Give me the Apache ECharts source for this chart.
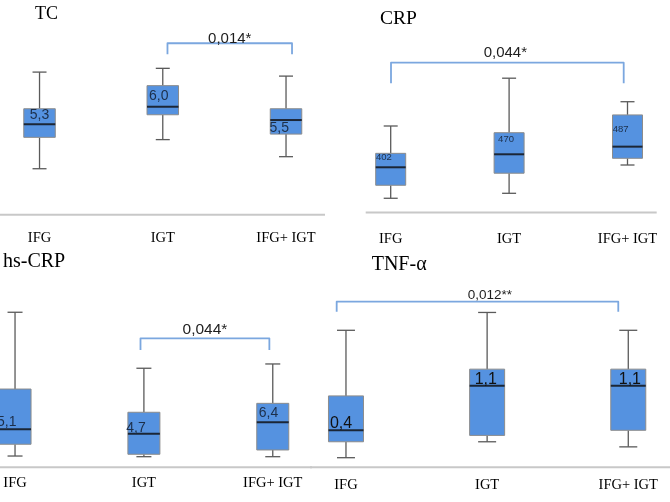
<!DOCTYPE html>
<html>
<head>
<meta charset="utf-8">
<script src="https://cdn.jsdelivr.net/npm/echarts@6/dist/echarts.min.js"></script>
<style>
html,body{margin:0;padding:0;background:#fff;}
#c{width:670px;height:502px;}
</style>
</head>
<body>
<div id="c"></div>
<script>
// ---------- data ----------
const categories = ['IFG', 'IGT', 'IFG+ IGT'];

// [min, Q1, median, Q3, max] per category
const tcStats    = [[3.53, 4.78, 5.30, 5.92, 7.38], [4.69, 5.68, 6.00, 6.84, 7.53], [4.01, 4.91, 5.47, 5.92, 7.22]];
const crpStats   = [[240, 308, 402, 475, 618], [266, 371, 470, 583, 868], [414, 449, 510, 676, 745]];
const hsCrpStats = [[2.67, 3.74, 5.10, 8.76, 15.74], [2.61, 2.83, 4.70, 6.65, 10.65], [2.61, 3.22, 5.74, 7.46, 11.04]];
const tnfStats   = [[-0.03, 0.22, 0.40, 0.94, 1.97], [0.22, 0.32, 1.10, 1.36, 2.25], [0.14, 0.40, 1.10, 1.36, 1.97]];

// value labels inside the boxes and the value they sit at
const tcLabels    = ['5,3', '6,0', '5,5'];   const tcLabelAt    = [5.67, 6.44, 5.16];
const crpLabels   = ['402', '470', '487'];   const crpLabelAt   = [454, 550, 602];
const hsCrpLabels = ['5,1', '4,7', '6,4'];   const hsCrpLabelAt = [5.79, 5.19, 6.55];
const tnfLabels   = ['0,4', '1,1', '1,1'];   const tnfLabelAt   = [0.51, 1.19, 1.19];

// significance brackets: [fromCategory, toCategory, topValue, endValue]
const tcBracket    = [1, 2, 8.53, 8.09];   const tcP    = '0,014*';
const crpBracket   = [0, 2, 949, 841];     const crpP   = '0,044*';
const hsCrpBracket = [1, 2, 13.37, 12.31]; const hsCrpP = '0,044*';
const tnfBracket   = [0, 2, 2.42, 2.26];   const tnfP   = '0,012**';

const titles = ['TC', 'CRP', 'hs-CRP', 'TNF-\u03b1'];

// ---------- layout / style ----------
const panels = [
  {stats: tcStats, labels: tcLabels, labelAt: tcLabelAt, bracket: tcBracket, p: tcP,
   grid: {left: -22.1, top: 18.88, width: 369.75, height: 195.78}, yMin: 1.7, yMax: 9.5,
   boxW: 31.5, capW: 14, labelDx: [6, 2, -0.7], labelSize: 14, labelColor: '#1c2f4a',
   bracketDx: [4.7, 6], textGap: 4.8, textDx: 0, pSize: 15, axisX: [0, 325], catMargin: 23.6,
   title: {x: 35, y: 14.5, size: 18}},
  {stats: crpStats, labels: crpLabels, labelAt: crpLabelAt, bracket: crpBracket, p: crpP,
   grid: {left: 331.5, top: 14.72, width: 355.2, height: 197.7}, yMin: 166, yMax: 1200,
   boxW: 30, capW: 14, labelDx: [0.3, 4, 0.3], labelSize: 9.5, labelColor: '#1c2f4a',
   bracketDx: [0.3, -3.8], textGap: 9.7, textDx: -2, pSize: 15, axisX: [365.7, 656.7], catMargin: 26.6,
   title: {x: 380, y: 19.2, size: 19.5}},
  {stats: hsCrpStats, labels: hsCrpLabels, labelAt: hsCrpLabelAt, bracket: hsCrpBracket, p: hsCrpP,
   grid: {left: -49.4, top: 265.4, width: 386.6, height: 201.85}, yMin: 1.65, yMax: 20,
   boxW: 32, capW: 15, labelDx: [-2, -1.7, 2], labelSize: 14, labelColor: '#1c2f4a',
   bracketDx: [-3.4, -3.4], textGap: 8.8, textDx: 0, pSize: 15.5, axisX: [0, 312], catMargin: 15.75,
   title: {x: 3, y: 261.8, size: 20}},
  {stats: tnfStats, labels: tnfLabels, labelAt: tnfLabelAt, bracket: tnfBracket, p: tnfP,
   grid: {left: 275.4, top: 271.05, width: 423.45, height: 196.2}, yMin: -0.18, yMax: 2.9,
   boxW: 35, capW: 18, labelDx: [1.4, 5, 8], labelSize: 16, labelColor: '#111',
   bracketDx: [-9.3, -10], textGap: 6, textDx: 12.5, pSize: 13.5, axisX: [310, 670], catMargin: 17.75,
   title: {x: 371.7, y: 265, size: 20}}
];

const BOX_FILL = '#5592e0', BOX_BORDER = '#8c8c8c', WHISKER = '#5a5a5a', MEDIAN = '#1b2636', BRACKET = '#7ba7df';

function boxRenderer(p) {
  return function (params, api) {
    const xi = api.value(0);
    const pMin = api.coord([xi, api.value(1)]);
    const pQ1 = api.coord([xi, api.value(2)]);
    const pMed = api.coord([xi, api.value(3)]);
    const pQ3 = api.coord([xi, api.value(4)]);
    const pMax = api.coord([xi, api.value(5)]);
    const cx = pMed[0], hw = p.boxW / 2, hc = p.capW / 2;
    const ws = {stroke: WHISKER, lineWidth: 1.3};
    const lab = api.coord([xi, p.labelAt[params.dataIndex]]);
    return {
      type: 'group',
      children: [
        {type: 'line', shape: {x1: cx, y1: pMax[1], x2: cx, y2: pQ3[1]}, style: ws},
        {type: 'line', shape: {x1: cx, y1: pQ1[1], x2: cx, y2: pMin[1]}, style: ws},
        {type: 'line', shape: {x1: cx - hc, y1: pMax[1], x2: cx + hc, y2: pMax[1]}, style: ws},
        {type: 'line', shape: {x1: cx - hc, y1: pMin[1], x2: cx + hc, y2: pMin[1]}, style: ws},
        {type: 'rect', shape: {x: cx - hw, y: pQ3[1], width: p.boxW, height: pQ1[1] - pQ3[1]},
         style: {fill: BOX_FILL, stroke: BOX_BORDER, lineWidth: 1}},
        {type: 'line', shape: {x1: cx - hw, y1: pMed[1], x2: cx + hw, y2: pMed[1]},
         style: {stroke: MEDIAN, lineWidth: 2}},
        {type: 'text', style: {x: cx - hw + p.labelDx[params.dataIndex], y: lab[1],
          text: p.labels[params.dataIndex], fill: p.labelColor,
          font: p.labelSize + 'px "Liberation Sans", Arial, sans-serif',
          align: 'left', verticalAlign: 'middle'}}
      ]
    };
  };
}

function bracketRenderer(p) {
  return function (params, api) {
    const a = api.coord([api.value(0), api.value(2)]);
    const b = api.coord([api.value(1), api.value(2)]);
    const e = api.coord([api.value(0), api.value(3)]);
    const x1 = a[0] + p.bracketDx[0], x2 = b[0] + p.bracketDx[1];
    return {
      type: 'group',
      children: [
        {type: 'polyline', shape: {points: [[x1, e[1]], [x1, a[1]], [x2, a[1]], [x2, e[1]]]},
         style: {stroke: BRACKET, lineWidth: 1.8, fill: null, lineJoin: 'round'}},
        {type: 'text', style: {x: (x1 + x2) / 2 + p.textDx, y: a[1] - p.textGap, text: p.p,
          fill: '#1e1e1e', font: p.pSize + 'px "Liberation Sans", Arial, sans-serif',
          align: 'center', verticalAlign: 'middle'}}
      ]
    };
  };
}

const grid = [], xAxis = [], yAxis = [], series = [], graphic = [];
panels.forEach(function (p, i) {
  grid.push(Object.assign({outerBoundsMode: 'none', containLabel: false}, p.grid));
  xAxis.push({type: 'category', gridIndex: i, data: categories,
    axisLine: {show: false}, axisTick: {show: false}, splitLine: {show: false},
    axisLabel: {margin: p.catMargin, verticalAlign: 'middle', color: '#000', fontSize: 14.5,
      fontFamily: '"Liberation Serif", "Times New Roman", serif', interval: 0}});
  yAxis.push({type: 'value', gridIndex: i, min: p.yMin, max: p.yMax, show: false,
    splitLine: {show: false}});
  series.push({type: 'custom', xAxisIndex: i, yAxisIndex: i, clip: false,
    renderItem: boxRenderer(p),
    encode: {x: 0, y: [1, 2, 3, 4, 5]},
    data: p.stats.map(function (s, k) { return [k].concat(s); })});
  series.push({type: 'custom', xAxisIndex: i, yAxisIndex: i, clip: false,
    renderItem: bracketRenderer(p),
    encode: {x: [0, 1], y: [2, 3]},
    data: [p.bracket]});
  const yLine = p.grid.top + p.grid.height;
  graphic.push({type: 'line', z: 1, shape: {x1: p.axisX[0], y1: yLine, x2: p.axisX[1], y2: yLine},
    style: {stroke: '#c8c8c8', lineWidth: 2}});
  graphic.push({type: 'text', z: 10, style: {x: p.title.x, y: p.title.y, text: titles[i], fill: '#000',
    font: p.title.size + 'px "Liberation Serif", "Times New Roman", serif', align: 'left', verticalAlign: 'middle'}});
});

const chart = echarts.init(document.getElementById('c'), null, {renderer: 'canvas'});
chart.setOption({
  animation: false,
  backgroundColor: '#fff',
  grid: grid, xAxis: xAxis, yAxis: yAxis, series: series, graphic: graphic
});
</script>
</body>
</html>
